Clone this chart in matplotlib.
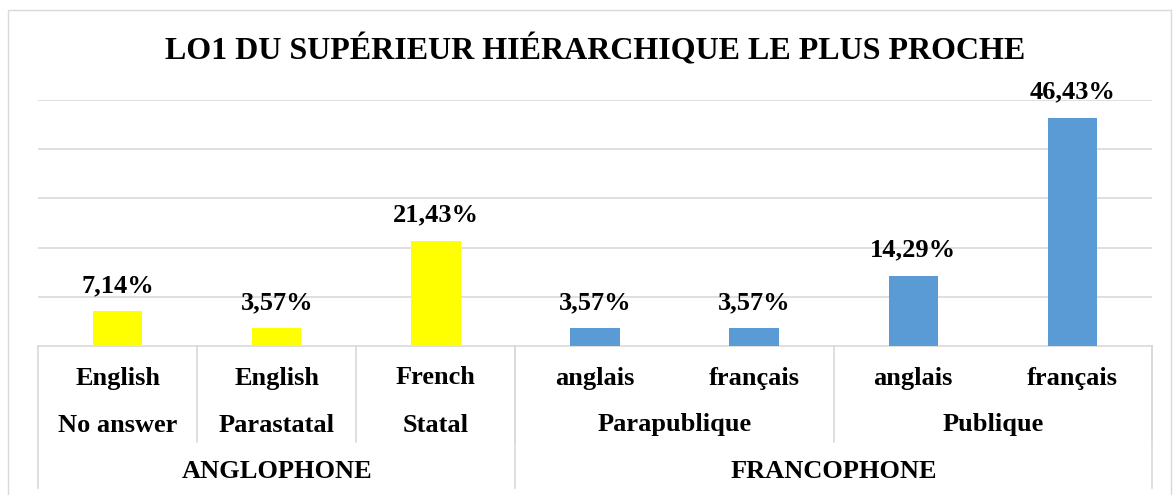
import numpy as np
import matplotlib
matplotlib.use("Agg")
import matplotlib.pyplot as plt
from matplotlib.transforms import blended_transform_factory
from matplotlib.patches import Rectangle

plt.rcParams["font.family"] = ["Liberation Serif", "DejaVu Serif"]
plt.rcParams["font.weight"] = "bold"

langues = ["English", "English", "French", "anglais", "français", "anglais", "français"]
secteurs = ["No answer", "Parastatal", "Statal", "Parapublique", "Publique"]
secteur_taille = [1, 1, 1, 2, 2]
zones = ["ANGLOPHONE", "FRANCOPHONE"]
zone_taille = [3, 4]
valeurs = [7.14, 3.57, 21.43, 3.57, 3.57, 14.29, 46.43]
couleurs = ["#FFFF00"] * 3 + ["#5B9BD5"] * 4

W, H = 1174, 495
fig = plt.figure(figsize=(W / 100, H / 100), dpi=100)

# outer chart frame
fig.patches.append(Rectangle((8 / W, -0.1), (1171 - 8) / W, 1.1 - 10 / H,
                             transform=fig.transFigure, fill=False,
                             edgecolor="#D9D9D9", linewidth=1))

x0, x1, ybase, ytop = 38, 1152, 346, 100
ax = fig.add_axes([x0 / W, (H - ybase) / H, (x1 - x0) / W, (ybase - ytop) / H])

x = np.arange(len(valeurs))
ax.bar(x, valeurs, width=0.31, color=couleurs, zorder=3)
ax.set_xlim(-0.5, len(valeurs) - 0.5)
ax.set_ylim(0, 50)
ax.set_yticks([10, 20, 30, 40, 50])
ax.grid(axis="y", color="#D9D9D9", linewidth=1.2, zorder=0)
for s in ax.spines.values():
    s.set_visible(False)
ax.tick_params(left=False, bottom=False, labelleft=False, labelbottom=False)

for xi, v in zip(x, valeurs):
    ax.annotate(f"{v:.2f}%".replace(".", ","), (xi, v), xytext=(0, 10),
                textcoords="offset points", ha="center", va="bottom",
                fontsize=19, fontweight="bold")

ax.set_title("LO1 DU SUPÉRIEUR HIÉRARCHIQUE LE PLUS PROCHE",
             fontsize=23, fontweight="bold", pad=29)

# multi-level category axis
tr = blended_transform_factory(ax.transData, ax.transAxes)
hpx = ybase - ytop


def fy(py):
    return (ybase - py) / hpx


ln = dict(color="#D9D9D9", linewidth=1.2, transform=tr, clip_on=False)
ax.plot([-0.5, len(valeurs) - 0.5], [0, 0], **ln)

for xi, t in zip(x, langues):
    ax.text(xi, fy(378), t, transform=tr, ha="center", va="center", fontsize=19)

pos = -0.5
for t, n in zip(secteurs, secteur_taille):
    ax.text(pos + n / 2, fy(425), t, transform=tr, ha="center", va="center", fontsize=19)
    pos += n
    ax.plot([pos, pos], [0, fy(442)], **ln)

pos = -0.5
ax.plot([pos, pos], [0, fy(488)], **ln)
for t, n in zip(zones, zone_taille):
    ax.text(pos + n / 2, fy(472), t, transform=tr, ha="center", va="center", fontsize=19)
    pos += n
    ax.plot([pos, pos], [0, fy(488)], **ln)

fig.savefig("out.png", dpi=100)
